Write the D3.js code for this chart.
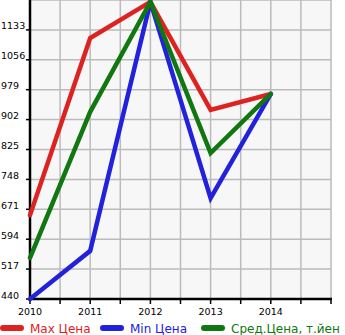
<!DOCTYPE html>
<html>
<head>
<meta charset="utf-8">
<script src="https://d3js.org/d3.v7.min.js"></script>
<style>
body { margin: 0; background: #fff; }
text { font-family: "DejaVu Sans", sans-serif; }
</style>
</head>
<body>
<div id="chart"></div>
<script>
// data
var years = [2010, 2011, 2012, 2013, 2014];
var maxPrice = [656, 1112, 1205, 927, 968];
var minPrice = [440, 564, 1205, 700, 968];
var avgPrice = [546, 922, 1205, 816, 968];
var yTicks = [440, 517, 594, 671, 748, 825, 902, 979, 1056, 1133];
var seriesNames = ["Max Цена", "Min Цена", "Сред.Цена, т.йен"];
var seriesColors = ["#dd2222", "#2222dd", "#117711"];

var W = 345, H = 335;
var pLeft = 30, pRight = 331, pTop = 0, pBottom = 299;

var svg = d3.select("#chart").append("svg")
  .attr("width", W).attr("height", H);

var x = d3.scaleLinear().domain([2010, 2015]).range([pLeft, pRight]);
var y = d3.scaleLinear().domain([440, 1210]).range([pBottom, pTop]);

// plot background
svg.append("rect")
  .attr("x", pLeft).attr("y", pTop)
  .attr("width", pRight - pLeft).attr("height", pBottom - pTop)
  .attr("fill", "#f7f7f7")
  .attr("stroke", "#bbbbbb").attr("stroke-width", 1.5);

// grid
var xGrid = d3.range(2010.5, 2015, 0.5);
svg.selectAll(".vg").data(xGrid).enter().append("line")
  .attr("x1", function(d) { return x(d); }).attr("x2", function(d) { return x(d); })
  .attr("y1", pTop).attr("y2", pBottom)
  .attr("stroke", "#bbbbbb").attr("stroke-width", 1.5);
svg.selectAll(".hg").data(yTicks.slice(1)).enter().append("line")
  .attr("x1", pLeft).attr("x2", pRight)
  .attr("y1", function(d) { return y(d); }).attr("y2", function(d) { return y(d); })
  .attr("stroke", "#bbbbbb").attr("stroke-width", 1.5);

// axes
svg.append("line").attr("x1", pLeft).attr("x2", pLeft).attr("y1", pTop).attr("y2", pBottom + 1)
  .attr("stroke", "#000").attr("stroke-width", 2.5);
svg.append("line").attr("x1", pLeft - 1).attr("x2", pRight + 1).attr("y1", pBottom).attr("y2", pBottom)
  .attr("stroke", "#000").attr("stroke-width", 2.5);

// y ticks + labels
svg.selectAll(".yt").data(yTicks).enter().append("line")
  .attr("x1", pLeft - 4).attr("x2", pLeft)
  .attr("y1", function(d) { return y(d); }).attr("y2", function(d) { return y(d); })
  .attr("stroke", "#000").attr("stroke-width", 1.5);
svg.selectAll(".yl").data(yTicks).enter().append("text")
  .attr("x", 1).attr("y", function(d) { return y(d) - 0.5; })
  .style("font-size", "9.5px").attr("fill", "#000")
  .text(function(d) { return d; });

// x ticks + labels
svg.selectAll(".xt").data(d3.range(2010, 2015.01, 0.5)).enter().append("line")
  .attr("x1", function(d) { return x(d); }).attr("x2", function(d) { return x(d); })
  .attr("y1", pBottom).attr("y2", pBottom + 5)
  .attr("stroke", "#000").attr("stroke-width", 1.5);
svg.selectAll(".xl").data(years).enter().append("text")
  .attr("x", function(d) { return x(d); }).attr("y", 315)
  .attr("text-anchor", "middle")
  .style("font-size", "9.5px").attr("fill", "#000")
  .text(function(d) { return d; });

// lines
var series = [maxPrice, minPrice, avgPrice];
var line = d3.line()
  .x(function(d, i) { return x(years[i]); })
  .y(function(d) { return y(d); });
svg.selectAll(".ln").data(series).enter().append("path")
  .attr("d", function(d) { return line(d); })
  .attr("fill", "none")
  .attr("stroke", function(d, i) { return seriesColors[i]; })
  .attr("stroke-width", 4.5)
  .attr("stroke-linejoin", "miter")
  .attr("stroke-linecap", "round");

// legend
var legX = [3, 103, 204];
var leg = svg.selectAll(".lg").data(seriesNames).enter().append("g")
  .attr("transform", function(d, i) { return "translate(" + legX[i] + ",328)"; });
leg.append("line")
  .attr("x1", 0).attr("x2", 18).attr("y1", 0).attr("y2", 0)
  .attr("stroke", function(d, i) { return seriesColors[i]; })
  .attr("stroke-width", 6).attr("stroke-linecap", "round");
leg.append("text")
  .attr("x", 27).attr("y", 4.5)
  .style("font-size", "12px")
  .attr("fill", function(d, i) { return seriesColors[i]; })
  .text(function(d) { return d; });
</script>
</body>
</html>
